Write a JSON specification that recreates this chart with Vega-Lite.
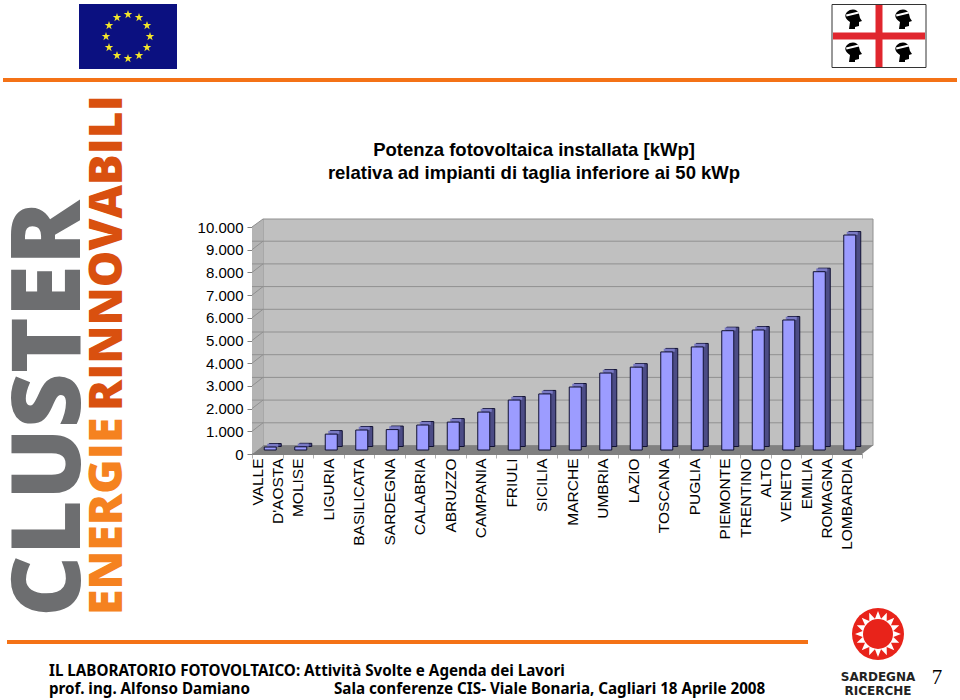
{
"$schema":"https://vega.github.io/schema/vega-lite/v6.json",
"width":610,"height":227,
"autosize":"none",
"padding":{"left":252,"top":227,"right":98,"bottom":246},
"background":"white",
"config":{"view":{"stroke":null}},
"title":{"text":["Potenza fotovoltaica installata [kWp]","relativa ad impianti di taglia inferiore ai 50 kWp"],"font":"Liberation Sans","fontSize":18.5,"fontWeight":"bold","lineHeight":23,"anchor":"middle","frame":"group","dx":-23,"offset":-178,"color":"black"},
"resolve":{"scale":{"x":"independent","y":"independent"},"axis":{"x":"independent","y":"independent"}},
"layer":[
{"data":{"values":[{}]},"layer":[
{"mark":{"type":"rect","color":"#f47216"},"encoding":{"x":{"datum":3,"type":"quantitative","scale":{"domain":[0,960],"range":[-252,708],"nice":false,"zero":false},"axis":null},"x2":{"datum":957},"y":{"datum":78,"type":"quantitative","scale":{"domain":[0,700],"range":[-227,473],"nice":false,"zero":false},"axis":null},"y2":{"datum":82}}},
{"mark":{"type":"rect","color":"#f47216"},"encoding":{"x":{"datum":7,"type":"quantitative","axis":null},"x2":{"datum":808},"y":{"datum":640,"type":"quantitative","axis":null},"y2":{"datum":644}}},
{"mark":{"type":"rect","color":"#0b1080"},"encoding":{"x":{"datum":79,"type":"quantitative","axis":null},"x2":{"datum":177},"y":{"datum":4,"type":"quantitative","axis":null},"y2":{"datum":69}}},
{"data":{"values":[{"a":128,"b":14.5},{"a":139,"b":17.5},{"a":147,"b":25.5},{"a":150,"b":36.5},{"a":147,"b":47.5},{"a":139,"b":55.5},{"a":128,"b":58.5},{"a":117,"b":55.5},{"a":109,"b":47.5},{"a":106,"b":36.5},{"a":109,"b":25.5},{"a":117,"b":17.5}]},
 "mark":{"type":"point","filled":true,"opacity":1,"color":"#f4e62a","size":81,"shape":"M0,-1L.225,-.309L.951,-.309L.363,.118L.588,.809L0,.382L-.588,.809L-.363,.118L-.951,-.309L-.225,-.309Z"},"encoding":{"x":{"field":"a","type":"quantitative","axis":null},"y":{"field":"b","type":"quantitative","axis":null}}},
{"mark":{"type":"rect","fill":"white","stroke":"#333","strokeWidth":1},"encoding":{"x":{"datum":832,"type":"quantitative","axis":null},"x2":{"datum":926},"y":{"datum":4.5,"type":"quantitative","axis":null},"y2":{"datum":67.5}}},
{"mark":{"type":"rect","color":"#e0262e"},"encoding":{"x":{"datum":875.5,"type":"quantitative","axis":null},"x2":{"datum":882.5},"y":{"datum":5,"type":"quantitative","axis":null},"y2":{"datum":67}}},
{"mark":{"type":"rect","color":"#e0262e"},"encoding":{"x":{"datum":833,"type":"quantitative","axis":null},"x2":{"datum":925},"y":{"datum":32.5,"type":"quantitative","axis":null},"y2":{"datum":39.5}}},
{"data":{"values":[{"a":853,"b":19},{"a":903,"b":19},{"a":853,"b":52},{"a":903,"b":52}]},"layer":[
 {"mark":{"type":"point","filled":true,"opacity":1,"color":"black","size":400,"shape":"M-0.6,-0.7C-0.2,-1.1 0.5,-1 0.6,-0.5L0.7,-0.1L0.9,0.2L0.6,0.3L0.6,0.7L0.2,0.8L0.2,1L-0.4,1L-0.3,0.3C-0.8,0 -0.9,-0.4 -0.6,-0.7Z"},"encoding":{"x":{"field":"a","type":"quantitative","axis":null},"y":{"field":"b","type":"quantitative","axis":null}}},
 {"mark":{"type":"point","filled":true,"opacity":1,"color":"white","size":400,"shape":"M-.7,-.45L.55,-.75L.6,-.55L-.65,-.25Z"},"encoding":{"x":{"field":"a","type":"quantitative","axis":null},"y":{"field":"b","type":"quantitative","axis":null}}}
]},
{"mark":{"type":"text","text":"CLUSTER","font":"Open Sans","fontWeight":800,"fontSize":95,"angle":270,"align":"left","baseline":"alphabetic","color":"#6d6e70"},"encoding":{"x":{"datum":80,"type":"quantitative","axis":null},"y":{"datum":617,"type":"quantitative","axis":null}}},
{"mark":{"type":"text","text":"ENERGIE","font":"Open Sans","fontWeight":800,"fontSize":46.5,"angle":270,"align":"left","baseline":"alphabetic","color":"#f58220"},"encoding":{"x":{"datum":122,"type":"quantitative","axis":null},"y":{"datum":615,"type":"quantitative","axis":null}}},
{"mark":{"type":"text","text":"RINNOVABILI","font":"Open Sans","fontWeight":800,"fontSize":46,"angle":270,"align":"left","baseline":"alphabetic","color":"#d9500f"},"encoding":{"x":{"datum":122,"type":"quantitative","axis":null},"y":{"datum":411,"type":"quantitative","axis":null}}},
{"mark":{"type":"text","text":"IL LABORATORIO FOTOVOLTAICO: Attività Svolte e Agenda dei Lavori","font":"Noto Sans","fontWeight":"bold","fontSize":15.2,"align":"left","baseline":"alphabetic","color":"black"},"encoding":{"x":{"datum":49,"type":"quantitative","axis":null},"y":{"datum":676,"type":"quantitative","axis":null}}},
{"mark":{"type":"text","text":"prof. ing. Alfonso Damiano","font":"Noto Sans","fontWeight":"bold","fontSize":15.2,"align":"left","baseline":"alphabetic","color":"black"},"encoding":{"x":{"datum":49,"type":"quantitative","axis":null},"y":{"datum":694,"type":"quantitative","axis":null}}},
{"mark":{"type":"text","text":"Sala conferenze CIS- Viale Bonaria, Cagliari 18 Aprile 2008","font":"Noto Sans","fontWeight":"bold","fontSize":15.2,"align":"left","baseline":"alphabetic","color":"black"},"encoding":{"x":{"datum":334,"type":"quantitative","axis":null},"y":{"datum":694,"type":"quantitative","axis":null}}},
{"mark":{"type":"point","filled":true,"opacity":1,"color":"#e8231a","size":2704,"shape":"circle"},"encoding":{"x":{"datum":878,"type":"quantitative","axis":null},"y":{"datum":634,"type":"quantitative","axis":null}}},
{"mark":{"type":"point","filled":true,"opacity":1,"color":"white","size":2116,"shape":"M0,-1L.133,-.667L.383,-.924L.378,-.565L.707,-.707L.565,-.378L.924,-.383L.667,-.133L1,0L.667,.133L.924,.383L.565,.378L.707,.707L.378,.565L.383,.924L.133,.667L0,1L-.133,.667L-.383,.924L-.378,.565L-.707,.707L-.565,.378L-.924,.383L-.667,.133L-1,0L-.667,-.133L-.924,-.383L-.565,-.378L-.707,-.707L-.378,-.565L-.383,-.924L-.133,-.667Z"},"encoding":{"x":{"datum":878,"type":"quantitative","axis":null},"y":{"datum":634,"type":"quantitative","axis":null}}},
{"mark":{"type":"point","filled":true,"opacity":1,"color":"#e8231a","size":900,"shape":"circle"},"encoding":{"x":{"datum":878,"type":"quantitative","axis":null},"y":{"datum":634,"type":"quantitative","axis":null}}},
{"mark":{"type":"text","text":"SARDEGNA","font":"DejaVu Sans","fontWeight":"bold","fontSize":12,"align":"center","baseline":"alphabetic","color":"#222"},"encoding":{"x":{"datum":878,"type":"quantitative","axis":null},"y":{"datum":681,"type":"quantitative","axis":null}}},
{"mark":{"type":"text","text":"RICERCHE","font":"DejaVu Sans","fontWeight":"bold","fontSize":12,"align":"center","baseline":"alphabetic","color":"#222"},"encoding":{"x":{"datum":878,"type":"quantitative","axis":null},"y":{"datum":695,"type":"quantitative","axis":null}}},
{"mark":{"type":"text","text":"7","font":"Liberation Serif","fontSize":21,"align":"center","baseline":"alphabetic","color":"black"},"encoding":{"x":{"datum":937,"type":"quantitative","axis":null},"y":{"datum":684,"type":"quantitative","axis":null}}},
{"mark":{"type":"rect","fill":"#c0c0c0","stroke":"#909090","strokeWidth":1},"encoding":{"x":{"datum":263,"type":"quantitative","axis":null},"x2":{"datum":873},"y":{"datum":219,"type":"quantitative","axis":null},"y2":{"datum":445.5}}},
{"data":{"values":[{"a":252,"b":454,"c":227},{"a":263,"b":445.5,"c":219}]},"mark":{"type":"area","color":"#b4b4b4"},"encoding":{"x":{"field":"a","type":"quantitative","axis":null},"y":{"field":"b","type":"quantitative","axis":null},"y2":{"field":"c"}}},
{"data":{"values":[{"a":252,"b":454,"c":454},{"a":263,"b":454,"c":445.5},{"a":862,"b":454,"c":445.5},{"a":873,"b":445.5,"c":445.5}]},"mark":{"type":"area","color":"#808080"},"encoding":{"x":{"field":"a","type":"quantitative","axis":null},"y":{"field":"b","type":"quantitative","axis":null},"y2":{"field":"c"}}},
{"data":{"values":[{"b":227,"c":219},{"b":249.7,"c":241.2},{"b":272.4,"c":263.9},{"b":295.1,"c":286.6},{"b":317.8,"c":309.3},{"b":340.5,"c":332},{"b":363.2,"c":354.7},{"b":385.9,"c":377.4},{"b":408.6,"c":400.1},{"b":431.3,"c":422.8}]},"mark":{"type":"rule","color":"#909090","strokeWidth":1},"encoding":{"x":{"datum":252,"type":"quantitative","axis":null},"x2":{"datum":263},"y":{"field":"b","type":"quantitative","axis":null},"y2":{"field":"c"}}}
]},
{"layer":[
{"data":{"values":[{"t":1000},{"t":2000},{"t":3000},{"t":4000},{"t":5000},{"t":6000},{"t":7000},{"t":8000},{"t":9000}]},"mark":{"type":"rule","color":"#909090","strokeWidth":1,"xOffset":11,"x2Offset":11,"yOffset":-8.5},"encoding":{"y":{"field":"t","type":"quantitative","scale":{"domain":[0,10000],"nice":false},"axis":{"title":null,"values":[0,1000,2000,3000,4000,5000,6000,7000,8000,9000,10000],"labelOverlap":false,"labelExpr":"replace(format(datum.value,','),',','.')","labelFont":"Liberation Sans","labelFontSize":15,"labelColor":"black","labelPadding":4,"tickSize":5,"tickColor":"#808080","domainColor":"#808080","grid":false}}}},
{"data":{"name":"potenza","values":[{"regione":"VALLE D'AOSTA","kWp":130},{"regione":"MOLISE","kWp":140},{"regione":"LIGURIA","kWp":700},{"regione":"BASILICATA","kWp":880},{"regione":"SARDEGNA","kWp":900},{"regione":"CALABRIA","kWp":1100},{"regione":"ABRUZZO","kWp":1230},{"regione":"CAMPANIA","kWp":1670},{"regione":"FRIULI","kWp":2200},{"regione":"SICILIA","kWp":2470},{"regione":"MARCHE","kWp":2775},{"regione":"UMBRIA","kWp":3390},{"regione":"LAZIO","kWp":3650},{"regione":"TOSCANA","kWp":4320},{"regione":"PUGLIA","kWp":4540},{"regione":"PIEMONTE","kWp":5255},{"regione":"TRENTINO ALTO","kWp":5286},{"regione":"VENETO","kWp":5727},{"regione":"EMILIA ROMAGNA","kWp":7855},{"regione":"LOMBARDIA","kWp":9470}]},
 "encoding":{"x":{"field":"regione","type":"nominal","sort":null,"scale":{"paddingInner":0,"paddingOuter":0},"axis":{"title":null,"labelAngle":270,"labelAlign":"right","labelBaseline":"middle","labelPadding":0,"labelOverlap":false,"labelFont":"Liberation Sans","labelFontSize":15.5,"labelColor":"black","labelLineHeight":20,"labelExpr":"!isValid(datum.value) ? '' : datum.value == \"VALLE D'AOSTA\" ? ['VALLE\u00a0\u00a0\u00a0', \"D'AOSTA\"] : datum.value == 'TRENTINO ALTO' ? ['TRENTINO', 'ALTO\u00a0\u00a0\u00a0\u00a0'] : datum.value == 'EMILIA ROMAGNA' ? ['EMILIA\u00a0\u00a0\u00a0', 'ROMAGNA'] : datum.value","labelOffset":{"condition":{"test":"isValid(datum.value) && indexof(datum.value, ' ') >= 0","value":-10},"value":0},"tickBand":"extent","tickSize":4,"tickColor":"#b0b0b0","domainColor":"#808080"}},"y":{"field":"kWp","type":"quantitative","title":null,"scale":{"domain":[0,10000],"nice":false},"axis":{"title":null,"values":[0,1000,2000,3000,4000,5000,6000,7000,8000,9000,10000],"labelOverlap":false,"labelExpr":"replace(format(datum.value,','),',','.')","labelFont":"Liberation Sans","labelFontSize":15,"labelColor":"black","labelPadding":4,"tickSize":5,"tickColor":"#808080","domainColor":"#808080","grid":false}}},
 "layer":[
  {"mark":{"type":"bar","size":12,"xOffset":8,"yOffset":-7.5,"y2Offset":-7.5,"fill":"#4c4c86","stroke":"#111133","strokeWidth":1}},
  {"mark":{"type":"tick","thickness":3,"xOffset":5.5,"yOffset":-5.75,"color":"#7a7ac4","opacity":1},"encoding":{"size":{"value":11}}},
  {"mark":{"type":"bar","size":12,"xOffset":3,"yOffset":-4,"y2Offset":-4,"fill":"#9c9cff","stroke":"#111133","strokeWidth":1}}
 ]}
]}
]}
